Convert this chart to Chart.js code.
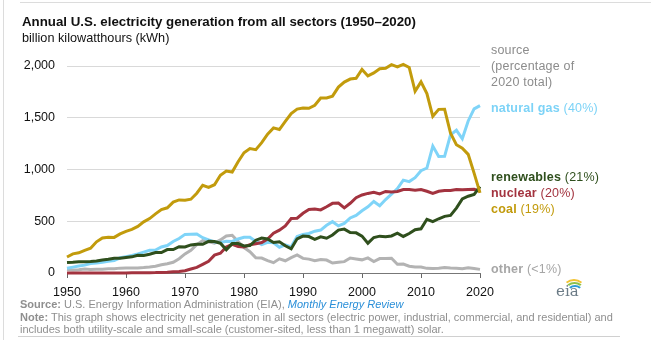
<!DOCTYPE html>
<html>
<head>
<meta charset="utf-8">
<script src="https://cdn.jsdelivr.net/npm/chart.js@4.4.1/dist/chart.umd.min.js"></script>
<style>
  html, body { margin: 0; padding: 0; background: #fff; }
  body { width: 651px; height: 340px; position: relative; overflow: hidden; font-family: "Liberation Sans", Arial, sans-serif; }
  #chartBox { position: absolute; left: 0; top: 0; width: 651px; height: 340px; }
  .frameTop { position: absolute; left: 20px; top: 2px; width: 631px; height: 1px; background: #dcdcdc; }
  .frameLeft { position: absolute; left: 3px; top: 0; width: 1px; height: 340px; background: #dcdcdc; }
  .frameBottom { position: absolute; left: 18px; top: 336px; width: 602px; height: 1px; background: #d0d0d0; }
  .title { position: absolute; left: 22px; top: 14px; font-size: 13.3px; font-weight: bold; color: #111; white-space: nowrap; }
  .subtitle { position: absolute; left: 22px; top: 31px; font-size: 12.7px; color: #111; white-space: nowrap; }
  .lab { position: absolute; left: 491px; font-size: 12.5px; white-space: nowrap; line-height: 16px; letter-spacing: 0.2px; }
  .lab b { font-weight: bold; }
  .foot { position: absolute; left: 20px; font-size: 11px; color: #8f8f8f; white-space: nowrap; line-height: 12.5px; }
  .foot a { color: #2a8fd8; font-style: italic; text-decoration: none; }
  .logo { position: absolute; left: 553px; top: 279px; width: 30px; height: 22px; }
  .logo span { position: absolute; left: 3px; top: 3px; font-family: "DejaVu Serif", "Liberation Serif", serif; font-size: 15px; color: #6b7b86; }
  .arc { position: absolute; border-radius: 50%; border-style: solid; border-color: transparent; }
</style>
</head>
<body>
<div class="frameTop"></div>
<div class="frameLeft"></div>
<div class="frameBottom"></div>
<div id="chartBox"><canvas id="genChart" width="651" height="340"></canvas></div>

<div class="title">Annual U.S. electricity generation from all sectors (1950–2020)</div>
<div class="subtitle">billion kilowatthours (kWh)</div>

<div class="lab" style="top:42px;color:#8c8c8c;">source</div>
<div class="lab" style="top:58px;color:#8c8c8c;">(percentage of</div>
<div class="lab" style="top:74px;color:#8c8c8c;">2020 total)</div>
<div class="lab" style="top:100px;color:#7dd3f7;"><b>natural gas</b> (40%)</div>
<div class="lab" style="top:169px;color:#2f4f1d;"><b>renewables</b> (21%)</div>
<div class="lab" style="top:185px;color:#a3333f;"><b>nuclear</b> (20%)</div>
<div class="lab" style="top:201px;color:#c29b0c;"><b>coal</b> (19%)</div>
<div class="lab" style="top:261px;color:#a6a6a6;"><b>other</b> (&lt;1%)</div>

<div class="logo">
  <div class="arc" style="left:10px;top:0px;width:18px;height:14px;border-width:2px;border-top-color:#f2c230;"></div>
  <div class="arc" style="left:12px;top:3px;width:15px;height:12px;border-width:2px;border-top-color:#8cc04a;"></div>
  <div class="arc" style="left:14px;top:6px;width:12px;height:10px;border-width:2px;border-top-color:#2b9ad6;"></div>
  <span>eia</span>
</div>

<div class="foot" style="top:298px;"><b>Source:</b> U.S. Energy Information Administration (EIA), <a>Monthly Energy Review</a></div>
<div class="foot" style="top:311px;"><b>Note:</b> This graph shows electricity net generation in all sectors (electric power, industrial, commercial, and residential) and</div>
<div class="foot" style="top:323px;">includes both utility-scale and small-scale (customer-sited, less than 1 megawatt) solar.</div>

<script>
document.addEventListener('DOMContentLoaded', function() {
    // Roky 1950–2020
    const years = [];
    for (let y = 1950; y <= 2020; y++) years.push(y);

    const coal = [
        155, 185, 195, 219, 239, 301, 338, 346, 344, 378,
        403, 422, 450, 494, 526, 571, 613, 630, 685, 706,
        704, 713, 771, 848, 828, 853, 944, 985, 976, 1075,
        1162, 1203, 1192, 1259, 1342, 1402, 1386, 1464, 1541, 1584,
        1594, 1592, 1621, 1690, 1691, 1709, 1796, 1845, 1874, 1881,
        1966, 1904, 1933, 1974, 1978, 2013, 1991, 2016, 1986, 1756,
        1847, 1733, 1514, 1581, 1582, 1352, 1239, 1206, 1146, 965, 774
    ];
    const naturalGas = [
        45, 57, 67, 76, 91, 96, 104, 114, 120, 147,
        158, 170, 184, 202, 220, 222, 251, 265, 304, 333,
        373, 374, 376, 341, 320, 300, 295, 306, 305, 329,
        346, 346, 305, 274, 297, 292, 249, 273, 253, 352,
        373, 382, 404, 415, 461, 496, 455, 479, 532, 557,
        601, 639, 691, 650, 710, 761, 816, 897, 883, 921,
        988, 1014, 1226, 1125, 1127, 1335, 1379, 1297, 1469, 1586, 1617
    ];
    const nuclear = [
        0, 0, 0, 0, 0, 0, 0, 0, 0.2, 0.2,
        0.5, 1.7, 2.3, 3.2, 3.3, 3.7, 5.5, 7.7, 12.5, 13.9,
        21.8, 38.1, 54.1, 83.5, 114, 173, 191, 251, 276, 255,
        251, 273, 283, 294, 328, 384, 414, 455, 527, 529,
        577, 613, 619, 610, 640, 673, 675, 629, 674, 728,
        754, 769, 780, 764, 788, 782, 787, 806, 806, 799,
        807, 790, 769, 789, 797, 797, 806, 805, 807, 809, 790
    ];
    const renewables = [
        101, 104, 109, 109, 111, 116, 126, 132, 143, 142,
        149, 156, 172, 170, 181, 197, 198, 226, 226, 254,
        251, 271, 278, 277, 306, 304, 288, 224, 284, 284,
        262, 265, 317, 338, 328, 294, 301, 263, 234, 330,
        357, 352, 326, 350, 336, 367, 415, 424, 391, 388,
        356, 288, 343, 356, 351, 358, 385, 353, 381, 418,
        427, 519, 496, 524, 547, 556, 627, 716, 742, 760, 834
    ];
    const other = [
        34, 29, 32, 38, 34, 37, 36, 40, 40, 47,
        48, 49, 49, 52, 57, 65, 79, 89, 104, 138,
        184, 220, 274, 314, 301, 289, 320, 358, 365, 303,
        246, 206, 146, 144, 120, 100, 137, 118, 149, 175,
        141, 134, 118, 130, 125, 96, 103, 110, 145, 136,
        127, 146, 110, 139, 139, 142, 84, 86, 65, 57,
        58, 45, 44, 47, 52, 48, 46, 42, 51, 43, 35
    ];

    const yTicks = [0, 500, 1000, 1500, 2000];
    const xTicks = [1950, 1960, 1970, 1980, 1990, 2000, 2010, 2020];

    function pts(values) {
        return values.map((v, i) => ({ x: years[i], y: v }));
    }

    function series(label, values, color, order) {
        return {
            label: label,
            data: pts(values),
            borderColor: color,
            backgroundColor: color,
            borderWidth: 3,
            pointRadius: 0,
            tension: 0,
            clip: false,
            order: order
        };
    }

    const ctx = document.getElementById('genChart').getContext('2d');
    new Chart(ctx, {
        type: 'line',
        data: {
            datasets: [
                series('coal', coal, '#c29b0c', 0),
                series('renewables', renewables, '#2f4f1d', 1),
                series('nuclear', nuclear, '#a3333f', 2),
                series('natural gas', naturalGas, '#7fd4f8', 3),
                series('other', other, '#b3b3b3', 4)
            ]
        },
        options: {
            responsive: false,
            animation: false,
            layout: { padding: { left: 0, right: 171, top: 66, bottom: 42 } },
            plugins: {
                legend: { display: false },
                tooltip: { enabled: false }
            },
            scales: {
                x: {
                    type: 'linear',
                    min: 1950,
                    max: 2020,
                    afterBuildTicks: function(scale) {
                        scale.ticks = xTicks.map(v => ({ value: v }));
                    },
                    afterFit: function(scale) { scale.height = 25; },
                    grid: {
                        drawOnChartArea: false,
                        drawTicks: true,
                        tickLength: 5,
                        color: '#666'
                    },
                    border: { display: true, color: '#777' },
                    ticks: {
                        padding: 7,
                        maxRotation: 0,
                        color: '#111',
                        font: { family: "'Liberation Sans', Arial, sans-serif", size: 12.5 },
                        callback: v => String(v)
                    }
                },
                y: {
                    min: 0,
                    max: 2000,
                    afterBuildTicks: function(scale) {
                        scale.ticks = yTicks.map(v => ({ value: v }));
                    },
                    afterFit: function(scale) { scale.width = 67; },
                    grid: { color: '#d9d9d9', drawTicks: false },
                    border: { display: false },
                    ticks: {
                        padding: 12,
                        color: '#111',
                        font: { family: "'Liberation Sans', Arial, sans-serif", size: 12.5 },
                        callback: v => v.toLocaleString('en-US')
                    }
                }
            }
        }
    });
});
</script>
</body>
</html>
